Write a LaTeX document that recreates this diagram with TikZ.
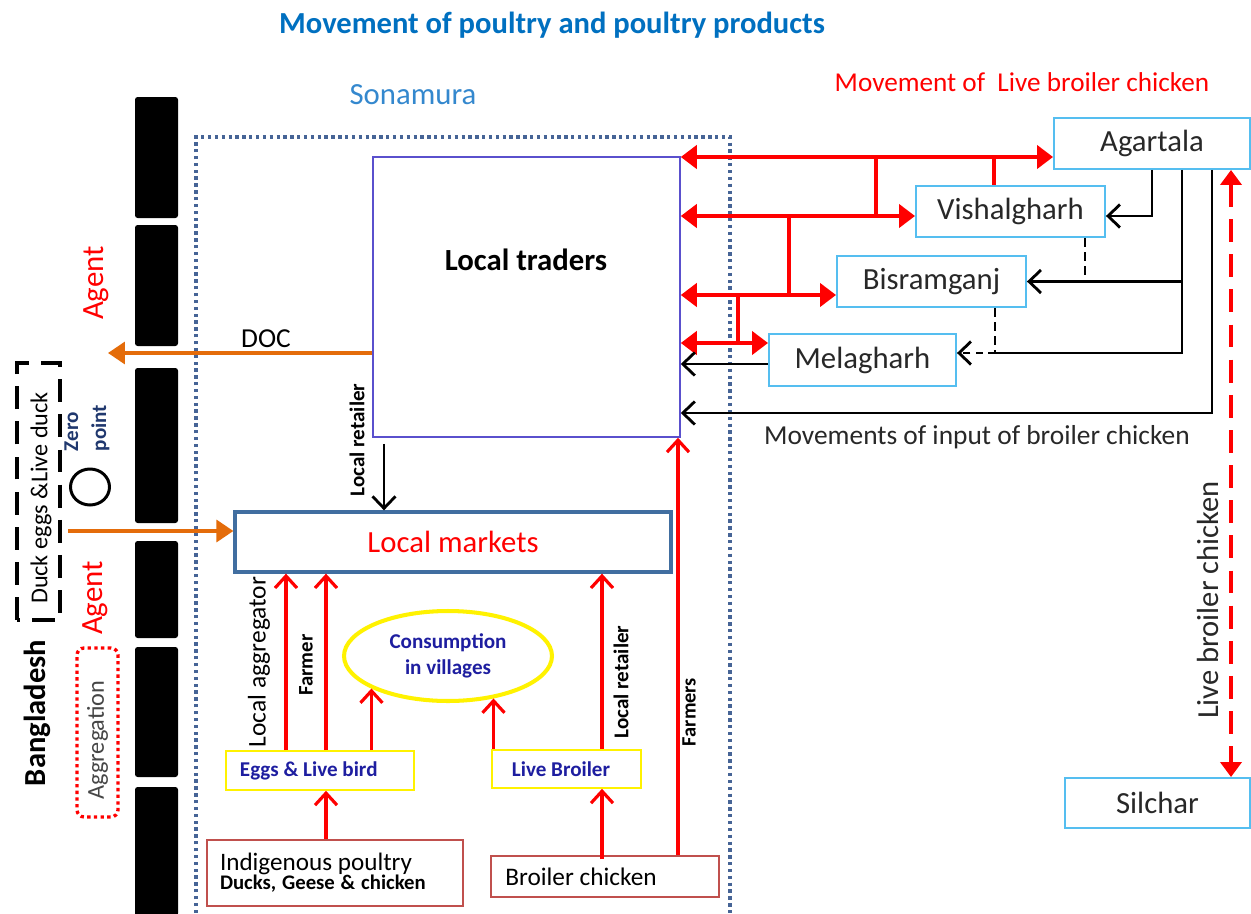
\documentclass[tikz,border=0pt]{standalone}
\usepackage{fontspec}
\setmainfont{Carlito}
\usetikzlibrary{arrows.meta,shapes.geometric}
\definecolor{titleblue}{RGB}{0,112,192}
\definecolor{sonablue}{RGB}{52,136,206}
\definecolor{dotblue}{RGB}{70,100,150}
\definecolor{ltborder}{RGB}{90,80,205}
\definecolor{lmborder}{RGB}{65,110,160}
\definecolor{cityblue}{RGB}{85,190,240}
\definecolor{brownred}{RGB}{192,80,77}
\definecolor{navytext}{RGB}{30,30,160}
\definecolor{zeroblue}{RGB}{32,56,110}
\definecolor{orangearr}{RGB}{228,108,10}
\definecolor{darktext}{RGB}{40,40,40}
\definecolor{agggray}{RGB}{70,70,70}
\begin{document}
\begin{tikzpicture}[x=0.02cm,y=-0.02cm,
  fs/.style={font=\fontsize{#1pt}{#1pt}\selectfont},
  fb/.style={font=\fontsize{#1pt}{#1pt}\selectfont\bfseries},
  citybox/.style={draw=cityblue,line width=1.1pt,minimum height=1.02cm,inner sep=0pt,text=darktext,fs=17.5},
  yelbox/.style={draw=yellow,line width=0.9pt,inner sep=0pt,text=navytext,fb=12},
  brbox/.style={draw=brownred,line width=0.9pt,inner ysep=0pt,text=black},
  redup/.style={draw=red,line width=2pt,-{Straight Barb[length=2.4mm,width=4.4mm,line width=1.8pt]}},
  reddbl/.style={draw=red,line width=2.7pt,{Triangle[length=3.2mm,width=4.6mm]}-{Triangle[length=3.2mm,width=4.6mm]}},
  redline/.style={draw=red,line width=2.7pt},
  blk/.style={draw=black,line width=1.6pt,-{Straight Barb[length=2.4mm,width=4.6mm,line width=1.6pt]}},
  blkline/.style={draw=black,line width=1.6pt},
  orarr/.style={draw=orangearr,line width=2pt,-{Triangle[length=3.4mm,width=4.4mm]}},
  barfill/.style={fill=black,rounded corners=1.5pt}
]
\useasboundingbox (0,0) rectangle (1251,913);
\fill[white] (0,0) rectangle (1251,913);

% titles
\node[fb=17.4,text=titleblue] (title) at (552,25) {Movement of poultry and poultry products};
\node[fs=17.5,text=sonablue] (sona) at (413,95) {Sonamura};
\node[fs=15.5,text=red] (mlbc) at (1022,82) {Movement of\ \ Live broiler chicken};

% Sonamura dotted region
\draw[dotblue,line width=1.9pt,dash pattern=on 1.9pt off 2pt] (196,913) -- (196,137) -- (730,137) -- (730,913);

% border bars
\fill[barfill] (135,97) rectangle (178,218);
\fill[barfill] (135,225) rectangle (178,346);
\fill[barfill] (135,368) rectangle (178,523);
\fill[barfill] (135,541) rectangle (178,638);
\fill[barfill] (135,647) rectangle (178,777);
\fill[barfill] (135,787) rectangle (178,916);

% left side texts
\node[fs=17.6,text=red,rotate=90] (agent1) at (96,283) {Agent};
\node[fs=17.6,text=red,rotate=90] (agent2) at (95,598) {Agent};
\node[fb=17.4,rotate=90] (bangla) at (37,713) {Bangladesh};
\draw[black,line width=2.4pt,dash pattern=on 13pt off 7pt] (17,620) -- (17,363) -- (60,363) -- (60,620) -- cycle;
\node[fs=13.8,rotate=90] (duck) at (41,498) {Duck eggs \&Live duck};
\node[text=zeroblue,rotate=90,align=left,inner sep=0pt,font=\fontsize{12pt}{16pt}\selectfont\bfseries] (zero) at (87,428) {Zero\\point};
\node[draw=black,line width=1.7pt,ellipse,minimum width=0.78cm,minimum height=0.72cm,inner sep=0pt] (zp) at (90,487) {};
\node[draw=red,line width=1.9pt,dash pattern=on 1.9pt off 1.9pt,rounded corners=4pt,minimum width=0.82cm,minimum height=3.38cm,inner sep=0pt] (aggbox) at (97.5,732.5) {};
\node[fs=13.8,text=agggray,rotate=90] (agg) at (97.5,740) {Aggregation};

% main boxes
\node[draw=ltborder,line width=0.9pt,minimum width=6.14cm,minimum height=5.6cm,inner sep=0pt] (lt) at (526.5,297) {};
\node[fb=17.5] (ltlabel) at (526,260) {Local traders};
\node[draw=lmborder,line width=1.9pt,minimum width=8.72cm,minimum height=1.2cm,inner sep=0pt,text=red,fs=17.5] (lm) at (453,542) {Local markets};

\node[yelbox,minimum width=3.76cm,minimum height=0.78cm] (eggs) at (320,770.5) {\hspace*{-0.45cm}Eggs \& Live bird};
\node[yelbox,minimum width=2.98cm,minimum height=0.76cm] (lb) at (566.5,769) {\hspace*{-0.22cm}Live Broiler};
\node[draw=yellow,line width=2.3pt,ellipse,minimum width=4.16cm,minimum height=1.8cm,inner sep=0pt,text=navytext,align=center,font=\fontsize{12pt}{14.5pt}\selectfont\bfseries] (cons) at (448,656) {Consumption\\in villages};

\node[brbox,minimum height=1.32cm,text width=4.6cm,inner xsep=0.26cm,align=left] (ind) at (335,873)
  {{\fontsize{14.3pt}{16pt}\selectfont Indigenous poultry}\\[-1pt]{\fontsize{11.8pt}{14pt}\selectfont\bfseries Ducks, Geese \& chicken}};
\node[brbox,minimum width=4.56cm,minimum height=0.82cm,inner xsep=0pt] (bc) at (605,876.5) {};
\node[fs=14.4,anchor=west,inner xsep=0pt] (bctext) at (505,876.5) {Broiler chicken};

% city boxes
\node[citybox,minimum width=3.92cm] (ag) at (1152,143.5) {Agartala};
\node[citybox,minimum width=3.78cm] (vi) at (1010.5,211.5) {Vishalgharh};
\node[citybox,minimum width=3.78cm] (bi) at (931.5,281.5) {Bisramganj};
\node[citybox,minimum width=3.74cm,minimum height=1.04cm] (me) at (862.5,360) {Melagharh};
\node[citybox,minimum width=3.7cm,minimum height=1.0cm] (si) at (1157.5,803) {Silchar};

% orange arrows
\coordinate (docend) at (108,353);
\draw[orarr] (docend -| lt.west) -- (docend);
\node[fs=15.6] (doc) at (266,339) {DOC};
\coordinate (duckstart) at (68,531);
\draw[orarr] (duckstart) -- (duckstart -| lm.west);

% local traders -> local markets
\draw[blk,shorten <=0.12cm] (384,0 |- lt.south) -- (384,0 |- lm.north);
\node[fb=12,rotate=90] (lr1) at (357,440) {Local retailer};

% bottom red arrows
\draw[redup] (286,0 |- eggs.north) -- (286,0 |- lm.south);
\draw[redup] (326,0 |- eggs.north) -- (326,0 |- lm.south);
\draw[redup] (cons.203 |- eggs.north) -- (cons.203);
\draw[redup] (cons.317 |- lb.north) -- (cons.317);
\draw[redup] (602,0 |- lb.north) -- (602,0 |- lm.south);
\draw[redup] (326,0 |- ind.north) -- (326,0 |- eggs.south);
\draw[redup,shorten <=-0.08cm] (602,0 |- bc.north) -- (602,0 |- lb.south);
\draw[redup] (678,0 |- bc.north) -- (678,0 |- lt.south);
\node[fs=14.5,rotate=90] (lagg) at (259,662) {Local aggregator};
\node[fb=11.8,rotate=90] (farmer) at (306,665) {Farmer};
\node[fb=12,rotate=90] (lr2) at (621,682) {Local retailer};
\node[fb=11.6,rotate=90] (farmers) at (689,712) {Farmers};

% top right red network
\coordinate (r1) at (0,157);
\coordinate (r2) at (0,216);
\coordinate (r3) at (0,295);
\coordinate (r4) at (0,343);
\draw[redline] (876,0 |- r1) -- (876,0 |- r2);
\draw[redline] (994,0 |- r1) -- (994,0 |- vi.north);
\draw[redline] (789,0 |- r2) -- (789,0 |- r3);
\draw[redline] (738,0 |- r3) -- (738,0 |- r4);
\draw[reddbl] (lt.east |- r1) -- (ag.west |- r1);
\draw[reddbl] (lt.east |- r2) -- (vi.west |- r2);
\draw[reddbl] (lt.east |- r3) -- (bi.west |- r3);
\draw[reddbl] (lt.east |- r4) -- (me.west |- r4);

% black input network
\draw[blk] (me.west |- 0,364) -- (lt.east |- 0,364);
\draw[blk] (ag.south) -- (ag.south |- 0,216) -- (vi.east |- 0,216);
\coordinate (mj) at (995,353);
\draw[blk] (1182,0 |- ag.south) -- (1182,0 |- bi.east) -- (bi.east);
\draw[blkline] (1182,0 |- bi.east) -- (1182,0 |- mj) -- (mj);
\draw[blk,dash pattern=on 4pt off 3pt] (mj) -- (me.east |- mj);
\draw[blkline,dash pattern=on 5pt off 3pt] (mj |- bi.south) -- (mj);
\draw[blkline,dash pattern=on 5pt off 3pt] (1085,0 |- vi.south) -- (1085,0 |- bi.east);
\draw[blk] (1212,0 |- ag.south) -- (1212,413) -- (lt.east |- 0,413);
\node[fs=15.6,text=darktext] (mvin) at (977,437) {Movements of input of broiler chicken};

% Silchar link
\draw[red,line width=2.2pt,dash pattern=on 13pt off 7pt,{Triangle[length=3mm,width=4.2mm]}-{Triangle[length=3mm,width=4.2mm]}] (1231,0 |- ag.south) -- (1231,0 |- si.north);
\node[fs=17.4,rotate=90,text=darktext] (lbc) at (1208,600) {Live broiler chicken};
\end{tikzpicture}
\end{document}
